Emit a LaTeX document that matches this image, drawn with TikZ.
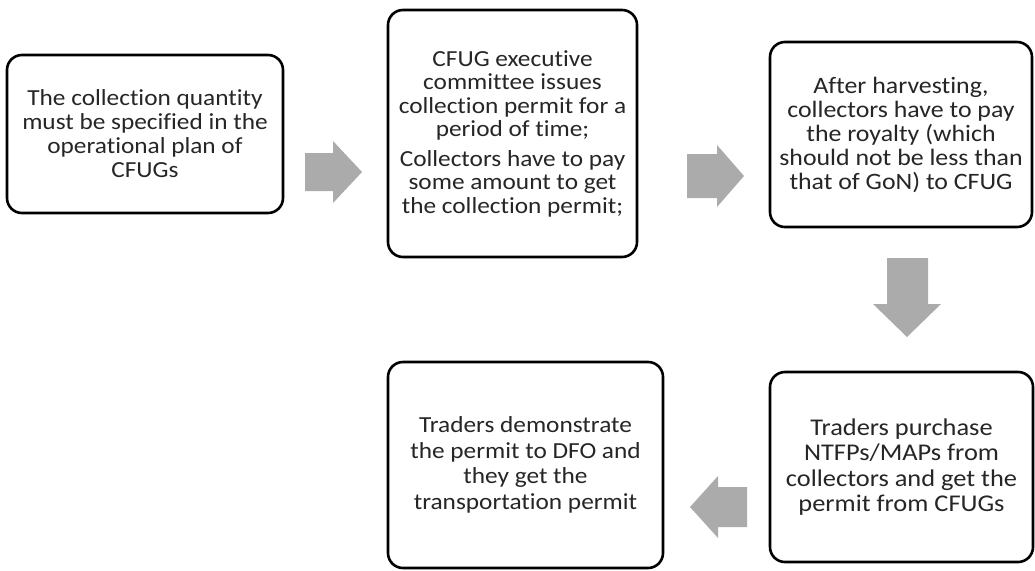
\documentclass[tikz,border=0pt]{standalone}
\usepackage{fontspec}
\setmainfont{Carlito}[Ligatures=NoCommon, FakeStretch=1.1]
\begin{document}
\begin{tikzpicture}[x=1pt,y=-1pt,
  stepbox/.style={draw=black, line width=2.6pt, rounded corners=15pt, fill=white,
    align=center, inner sep=0pt, text=black!85,
    font=\fontsize{23}{24}\selectfont},
  blockarrow/.style={fill=black!33, draw=none}]
\useasboundingbox (0,0) rectangle (1035,570);

% process boxes
\node[stepbox, minimum width=276pt, minimum height=158pt] (quantity) at (145,134)
  {The collection quantity\\must be specified in the\\operational plan of\\CFUGs};
\node[stepbox, minimum width=249pt, minimum height=247pt,
  font=\fontsize{23}{23.5}\selectfont] (permit) at (512.5,133.5)
  {CFUG executive\\committee issues\\collection permit for a\\period of time;\\[6pt]
   Collectors have to pay\\some amount to get\\the collection permit;};
\node[stepbox, minimum width=262pt, minimum height=185pt,
  font=\fontsize{23.5}{24}\selectfont] (royalty) at (901,134.5)
  {After harvesting,\\collectors have to pay\\the royalty (which\\should not be less than\\that of GoN) to CFUG};
\node[stepbox, minimum width=263pt, minimum height=190pt,
  font=\fontsize{24}{25.5}\selectfont] (purchase) at (901.5,467)
  {Traders purchase\\NTFPs/MAPs from\\collectors and get the\\permit from CFUGs};
\node[stepbox, minimum width=275pt, minimum height=206pt,
  font=\fontsize{23}{25.5}\selectfont] (transport) at (525.5,465)
  {Traders demonstrate\\the permit to DFO and\\they get the\\transportation permit};

% block arrows between the boxes
\coordinate (a1) at (305,134);
\fill[blockarrow] ([yshift=-19pt]a1) -- ++(28,0) -- ++(0,-12) -- ++(29,31) -- ++(-29,31)
  -- ++(0,-12) -- ++(-28,0) -- cycle;
\coordinate (a2) at (687,133);
\fill[blockarrow] ([yshift=-21pt]a2) -- ++(30,0) -- ++(0,-9) -- ++(27,31) -- ++(-27,31)
  -- ++(0,-9) -- ++(-30,0) -- cycle;
\coordinate (a3) at (907,258);
\fill[blockarrow] ([xshift=-20pt]a3) -- ++(41,0) -- ++(0,46) -- ++(13,0) -- ++(-34,33)
  -- ++(-34,-33) -- ++(14,0) -- cycle;
\coordinate (a4) at (747,467);
\fill[blockarrow] ([yshift=-20pt]a4) -- ++(-29,0) -- ++(0,-11) -- ++(-28,31) -- ++(28,31)
  -- ++(0,-11) -- ++(29,0) -- cycle;
\end{tikzpicture}
\end{document}
